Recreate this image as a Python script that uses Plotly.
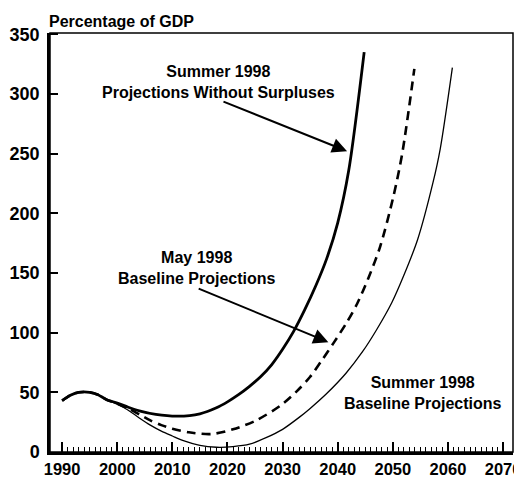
import plotly.graph_objects as go

# ---- data ----
years_wo = [1990, 1991.5, 1993, 1995, 1996.5, 1998, 2000, 2002, 2004, 2007, 2011, 2015, 2018,
            2020, 2022, 2024, 2026, 2028, 2030, 2032, 2034, 2036, 2038, 2040, 2042, 2044.8]
vals_wo = [43, 47.5, 50, 50, 48, 44, 41, 37.5, 34.5, 31.5, 30, 32, 37,
           42, 48, 55, 63, 73, 86, 101, 119, 139, 162, 192, 236, 335]

years_may = [1990, 1991.5, 1993, 1995, 1996.5, 1998, 2000, 2002, 2004, 2006, 2008, 2010, 2013,
             2017, 2021, 2025, 2029.6, 2032.6, 2035, 2037, 2039.2, 2041.7, 2043.5, 2045.5,
             2047.7, 2050.1, 2051.7, 2053.9]
vals_may = [43, 47.5, 50, 50, 48, 44, 40.5, 36.5, 31.5, 26.5, 22.5, 19.5, 16.5,
            15, 19, 26, 38.8, 51, 63, 76, 91, 109, 124, 145, 172, 214, 250, 321]

years_base = [1990, 1991.5, 1993, 1995, 1996.5, 1998, 2000, 2002, 2004, 2006, 2008, 2010, 2012,
              2015, 2018, 2021, 2024, 2027, 2030, 2033, 2035, 2038, 2041.5, 2044.5, 2047,
              2049.8, 2052, 2054.5, 2057.3, 2058.6, 2060.8]
vals_base = [43, 47.5, 50, 50, 48, 44, 40, 35, 28.5, 22.5, 17.5, 13.4, 9.5,
             5.5, 4, 4.5, 6.5, 12, 19, 29, 36.5, 49, 66, 84, 102,
             125, 148, 178, 226, 254, 322]

x_ticks = [1990, 2000, 2010, 2020, 2030, 2040, 2050, 2060, 2070]
x_minor = list(range(1990, 2071))
y_ticks = [0, 50, 100, 150, 200, 250, 300, 350]

labels = {
    "wo": "Summer 1998<br>Projections Without Surpluses",
    "may": "May 1998<br>Baseline Projections",
    "base": "Summer 1998<br>Baseline Projections",
}

FONT = "Liberation Sans, Arial, sans-serif"

fig = go.Figure()
fig.add_trace(go.Scatter(x=years_wo, y=vals_wo, mode="lines",
                         line=dict(color="black", width=2.8, shape="spline", smoothing=0.8)))
fig.add_trace(go.Scatter(x=years_may, y=vals_may, mode="lines",
                         line=dict(color="black", width=2.6, dash="9px,6px", shape="spline", smoothing=0.8)))
fig.add_trace(go.Scatter(x=years_base, y=vals_base, mode="lines",
                         line=dict(color="black", width=1.3, shape="spline", smoothing=0.8)))

annos = [
    dict(x=2018.4, y=310, text=labels["wo"], showarrow=False),
    dict(x=2014.3, y=154.4, text=labels["may"], showarrow=False),
    dict(x=2055.3, y=49.4, text=labels["base"], showarrow=False),
]
for a in annos:
    a.update(xref="x", yref="y", font=dict(family=FONT, size=16, color="black"),
             xanchor="center", yanchor="middle")

arrows = [
    dict(x=2041.7, y=252, ax=2019.0, ay=294),
    dict(x=2038.3, y=92, ax=2014.5, ay=137.4),
]
for a in arrows:
    a.update(xref="x", yref="y", axref="x", ayref="y", text="", showarrow=True,
             arrowhead=2, arrowsize=1.5, arrowwidth=2, arrowcolor="black", standoff=0, startstandoff=0)

title = dict(xref="paper", yref="paper", x=0, y=1, xanchor="left", yanchor="bottom",
             xshift=-3, yshift=1, text="<b>Percentage of GDP</b>", showarrow=False,
             font=dict(family=FONT, size=16, color="black"))

# the page body has an 8px margin, so the figure is drawn 8px in from the window's corner
fig.update_layout(
    width=514, height=473,
    margin=dict(l=42, r=9, t=25, b=29),
    paper_bgcolor="white", plot_bgcolor="white",
    showlegend=False,
    font=dict(family=FONT, color="black"),
    annotations=[dict(a, text=f"<b>{a['text']}</b>") for a in annos] + arrows + [title],
    shapes=[dict(type="rect", xref="paper", yref="paper", x0=0, y0=0, x1=1, y1=1,
                 line=dict(color="black", width=1.5))],
)
fig.update_xaxes(range=[1987.8, 2071.8], showgrid=False, zeroline=False, automargin=False,
                 showline=True, linecolor="black", linewidth=2.5,
                 tickmode="array", tickvals=x_ticks, ticktext=[f"<b>{v}</b>" for v in x_ticks],
                 ticks="inside", ticklen=10, tickwidth=1.5, tickcolor="black",
                 ticklabeloverflow="allow",
                 tickfont=dict(family=FONT, size=16.5, color="black"),
                 minor=dict(tickmode="array", tickvals=x_minor, ticks="inside", ticklen=5,
                            tickwidth=1, tickcolor="black"))
fig.update_yaxes(range=[0, 351], showgrid=False, zeroline=False, automargin=False,
                 showline=True, linecolor="black", linewidth=2.5,
                 tickmode="array", tickvals=y_ticks, ticktext=[f"<b>{v}</b>" for v in y_ticks],
                 ticks="inside", ticklen=8, tickwidth=2, tickcolor="black",
                 ticklabelstandoff=4, ticklabeloverflow="allow",
                 tickfont=dict(family=FONT, size=18, color="black"))

fig.write_html("out.html")
